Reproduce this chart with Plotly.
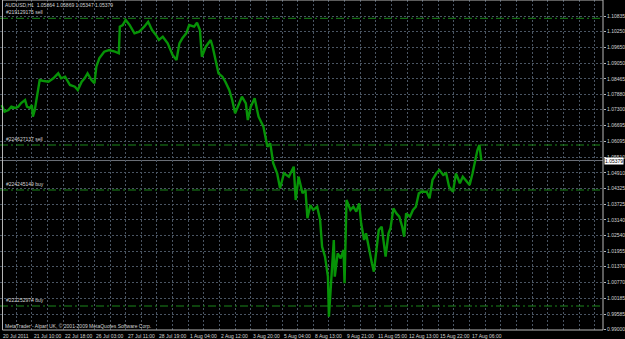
import plotly.graph_objects as go

# ---- data (bar index, price) ----
bar_index = [1, 4, 8, 11, 15, 18, 21, 25, 27, 30, 32, 33, 35, 37, 40, 43, 49, 54, 59, 62,
             66, 71, 76, 79, 83, 86, 89, 93, 96, 98, 101, 106, 111, 117, 121, 122, 125, 128, 132, 137,
             142, 147, 151, 155, 159, 162, 166, 171, 176, 180, 183, 186, 190, 193, 198, 201, 204, 206, 210, 215,
             217, 220, 223, 227, 230, 234, 237, 240, 243, 247, 251, 253, 256, 260, 264, 269, 273, 276, 279, 283,
             286, 290, 295, 300, 302, 305, 309, 312, 314, 317, 320, 324, 327, 329, 332, 335, 336, 339, 341, 342,
             345, 348, 351, 352, 354, 358, 361, 364, 367, 369, 372, 374, 377, 380, 382, 385, 387, 390, 392, 394,
             397, 399, 402, 405, 408, 411, 413, 415, 419, 422, 425, 428, 431, 436, 439, 442, 446, 449, 453, 456,
             459, 463, 466, 470, 473, 476, 480, 483, 486, 488, 490, 492]
price = [1.07475, 1.07222, 1.07286, 1.07411, 1.07362, 1.07411, 1.07551, 1.07664, 1.07411, 1.07362,
         1.07475, 1.07033, 1.07286, 1.07788, 1.08419, 1.08392, 1.08355, 1.08483, 1.08672, 1.08483,
         1.08543, 1.08230, 1.08166, 1.08041, 1.08355, 1.08483, 1.08672, 1.08419, 1.08294, 1.08921,
         1.09238, 1.09487, 1.09551, 1.09487, 1.09427, 1.10431, 1.10495, 1.10684, 1.10495, 1.10182,
         1.10242, 1.10431, 1.10620, 1.10306, 1.10118, 1.09929, 1.10054, 1.09804, 1.09363, 1.09174,
         1.09804, 1.09993, 1.10182, 1.10495, 1.10431, 1.10582, 1.10306, 1.09298, 1.09676, 1.09929,
         1.09676, 1.09174, 1.08672, 1.08543, 1.08355, 1.08041, 1.07664, 1.07162, 1.07411, 1.07788,
         1.07539, 1.06909, 1.07411, 1.07728, 1.07033, 1.06656, 1.05901, 1.06029, 1.05274, 1.04896,
         1.04330, 1.04896, 1.04768, 1.05146, 1.03889, 1.04768, 1.04141, 1.04266, 1.03198, 1.03700,
         1.03511, 1.03636, 1.03134, 1.02126, 1.01748, 1.00993, 0.99483, 1.01371, 1.02379, 1.00993,
         1.01876, 1.01688, 1.02001, 1.00744, 1.03889, 1.03511, 1.03636, 1.03447, 1.03764, 1.03009,
         1.02379, 1.02631, 1.02001, 1.01499, 1.01182, 1.02254, 1.02756, 1.02881, 1.02254, 1.01748,
         1.02631, 1.02820, 1.03575, 1.03387, 1.03258, 1.02881, 1.02503, 1.03387, 1.03258, 1.03511,
         1.03636, 1.04142, 1.04202, 1.04202, 1.03953, 1.04644, 1.04896, 1.05021, 1.04832, 1.04896,
         1.04391, 1.04202, 1.04896, 1.04519, 1.04768, 1.04644, 1.04455, 1.04896, 1.05399, 1.05776,
         1.05965, 1.05379]

price_ticks = [1.10835, 1.10250, 1.09650, 1.09050, 1.08465, 1.07880, 1.07300, 1.06695, 1.06095,
               1.05510, 1.04910, 1.04325, 1.03725, 1.03140, 1.02540, 1.01955, 1.01370, 1.00770,
               1.00185, 0.99585, 0.99000]

time_tick_index = [0, 32, 64, 96, 128, 160, 192, 224, 256, 288, 320, 352, 384, 416, 448, 480]
time_tick_labels = ["20 Jul 2011", "21 Jul 10:00", "22 Jul 18:00", "26 Jul 03:00", "27 Jul 11:00",
                    "28 Jul 19:00", "1 Aug 04:00", "2 Aug 12:00", "3 Aug 20:00", "5 Aug 04:00",
                    "8 Aug 13:00", "9 Aug 21:00", "11 Aug 05:00", "12 Aug 13:00", "15 Aug 22:00",
                    "17 Aug 06:00"]

order_labels = ["#219129175 sell", "#224627137 sell", "#224245149 buy", "#222252974 buy"]
order_prices = [1.10748, 1.05965, 1.04266, 0.99887]

symbol_title = "AUDUSD,H1  1.05864 1.05869 1.05347 1.05379"
last_price = 1.05379

W, H = 625, 339
ML, MR, MT, MB = 0, 19, 0, 9
PW, PH = W - ML - MR, H - MT - MB
FONT = "Liberation Sans"
TXT = "#d4d4d4"
GRID = "#4a5563"
GREEN = "#079307"

fig = go.Figure()
fig.add_trace(go.Scatter(x=bar_index, y=price, mode="lines",
                         line=dict(color=GREEN, width=2.4), hoverinfo="skip"))

shapes = []
# order lines
for p in order_prices:
    shapes.append(dict(type="line", xref="paper", yref="y", x0=0, x1=1, y0=p, y1=p,
                       line=dict(color="#1a861a", width=1, dash="8px,3px,2px,3px"), layer="above"))
# current price line
shapes.append(dict(type="line", xref="paper", yref="y", x0=0, x1=1, y0=last_price, y1=last_price,
                   line=dict(color="#6c7078", width=1), layer="below"))
# frame
shapes.append(dict(type="rect", xref="paper", yref="paper", x0=2.5 / PW, x1=1, y0=0, y1=1,
                   line=dict(color="#b8b8b8", width=1)))

annotations = []
annotations.append(dict(text=symbol_title, xref="paper", yref="paper", x=3 / PW, y=1 - 5 / PH,
                        xanchor="left", yanchor="middle", showarrow=False,
                        font=dict(family=FONT, size=5, color=TXT)))
for lab, p in zip(order_labels, order_prices):
    annotations.append(dict(text=lab, xref="paper", yref="y", x=4 / PW, y=p, yshift=1,
                            xanchor="left", yanchor="bottom", showarrow=False,
                            font=dict(family=FONT, size=5, color=TXT)))
annotations.append(dict(text="MetaTrader - Alpari UK, © 2001-2009 MetaQuotes Software Corp.",
                        xref="paper", yref="paper", x=3 / PW, y=1 - 326 / PH,
                        xanchor="left", yanchor="middle", showarrow=False,
                        font=dict(family=FONT, size=5, color=TXT)))
for i, lab in zip(time_tick_index, time_tick_labels):
    annotations.append(dict(text=lab, xref="x", yref="paper", x=i, y=0, yshift=-1,
                            xanchor="left", yanchor="top", showarrow=False,
                            font=dict(family=FONT, size=5, color=TXT)))
annotations.append(dict(text=f"{last_price:.5f}", xref="paper", yref="y", x=1, y=last_price,
                        xanchor="left", yanchor="middle", xshift=1, showarrow=False,
                        bgcolor="#ffffff", borderpad=0,
                        font=dict(family=FONT, size=5, color="#000000")))

px_per_bar = 0.982
x0 = -0.6 / px_per_bar
x1 = x0 + PW / px_per_bar
ytop = 1.10835 + 16 * 0.00037752
ybot = ytop - PH * 0.00037752

fig.update_layout(
    width=W, height=H, margin=dict(l=ML, r=MR, t=MT, b=MB, pad=0),
    paper_bgcolor="#000000", plot_bgcolor="#000000", showlegend=False,
    shapes=shapes, annotations=annotations,
    xaxis=dict(range=[x0, x1], tick0=0, dtick=16, showgrid=True, gridcolor=GRID,
               griddash="2px,2px", gridwidth=1, showticklabels=False, zeroline=False,
               showline=False, ticks=""),
    yaxis=dict(range=[ybot, ytop], side="right", tickvals=price_ticks,
               ticktext=[f"{v:.5f}" for v in price_ticks], showgrid=True, gridcolor=GRID,
               griddash="2px,2px", gridwidth=1, zeroline=False, showline=False,
               ticks="outside", ticklen=2, tickcolor="#b8b8b8",
               tickfont=dict(family=FONT, size=5, color=TXT)),
)

fig.write_html("out.html")
